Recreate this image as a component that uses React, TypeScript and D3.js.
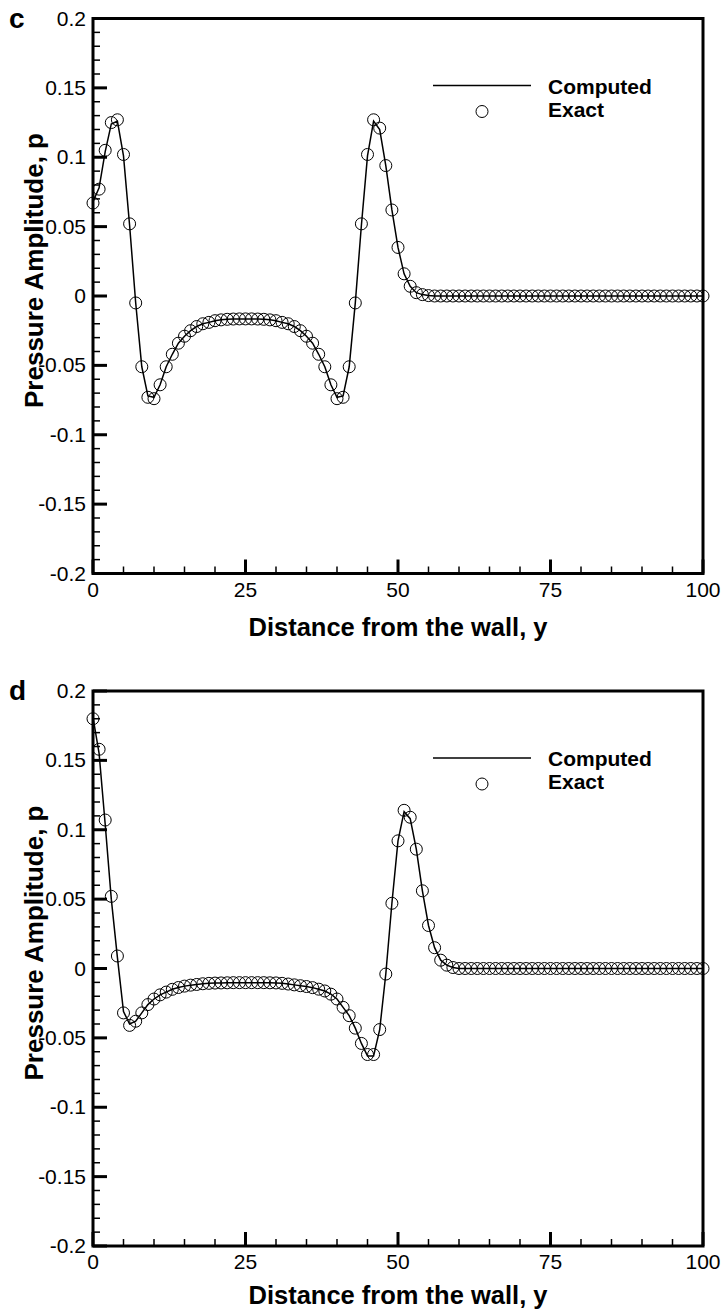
import React from "react";
import * as d3 from "d3";

// ---- data ----
const yPositions: number[] = d3.range(0, 101);

const exactC: number[] = [
  0.067, 0.077, 0.105, 0.125, 0.127, 0.102, 0.052, -0.005, -0.051, -0.073,
  -0.074, -0.064, -0.051, -0.042, -0.034, -0.029, -0.025, -0.022, -0.020, -0.019,
  -0.0178, -0.0172, -0.0168, -0.0166, -0.0165, -0.0165, -0.0165, -0.0166, -0.0168, -0.0172,
  -0.0178, -0.019, -0.020, -0.022, -0.025, -0.029, -0.034, -0.042, -0.051, -0.064,
  -0.074, -0.073, -0.051, -0.005, 0.052, 0.102, 0.127, 0.121, 0.094, 0.062,
  0.035, 0.016, 0.007, 0.0024, 0.001, 0.0003, 0, 0, 0, 0,
  0, 0, 0, 0, 0, 0, 0, 0, 0, 0,
  0, 0, 0, 0, 0, 0, 0, 0, 0, 0,
  0, 0, 0, 0, 0, 0, 0, 0, 0, 0,
  0, 0, 0, 0, 0, 0, 0, 0, 0, 0,
  0,
];

const computedC: number[] = [
  0.068, 0.078, 0.104, 0.124, 0.126, 0.101, 0.051, -0.005, -0.051, -0.072,
  -0.073, -0.064, -0.051, -0.042, -0.034, -0.029, -0.025, -0.022, -0.020, -0.019,
  -0.0178, -0.0172, -0.0168, -0.0166, -0.0165, -0.0165, -0.0165, -0.0166, -0.0168, -0.0172,
  -0.0178, -0.019, -0.020, -0.022, -0.025, -0.029, -0.034, -0.042, -0.051, -0.064,
  -0.073, -0.072, -0.051, -0.005, 0.051, 0.101, 0.126, 0.120, 0.094, 0.062,
  0.035, 0.016, 0.007, 0.0024, 0.001, 0.0003, 0, 0, 0, 0,
  0, 0, 0, 0, 0, 0, 0, 0, 0, 0,
  0, 0, 0, 0, 0, 0, 0, 0, 0, 0,
  0, 0, 0, 0, 0, 0, 0, 0, 0, 0,
  0, 0, 0, 0, 0, 0, 0, 0, 0, 0,
  0,
];

const exactD: number[] = [
  0.180, 0.158, 0.107, 0.052, 0.009, -0.032, -0.041, -0.038, -0.032, -0.026,
  -0.022, -0.019, -0.017, -0.015, -0.0137, -0.0127, -0.012, -0.0115, -0.011, -0.0107,
  -0.0105, -0.0104, -0.0103, -0.0102, -0.0102, -0.0102, -0.0102, -0.0102, -0.0102, -0.0103,
  -0.0104, -0.0107, -0.0112, -0.0118, -0.0124, -0.013, -0.0138, -0.0149, -0.0162, -0.0185,
  -0.022, -0.028, -0.034, -0.043, -0.054, -0.062, -0.062, -0.044, -0.004, 0.047,
  0.092, 0.114, 0.109, 0.086, 0.056, 0.031, 0.015, 0.006, 0.0024, 0.0007,
  0, 0, 0, 0, 0, 0, 0, 0, 0, 0,
  0, 0, 0, 0, 0, 0, 0, 0, 0, 0,
  0, 0, 0, 0, 0, 0, 0, 0, 0, 0,
  0, 0, 0, 0, 0, 0, 0, 0, 0, 0,
  0,
];

const computedD: number[] = [
  0.181, 0.155, 0.104, 0.050, 0.008, -0.031, -0.040, -0.038, -0.032, -0.026,
  -0.022, -0.019, -0.017, -0.015, -0.0137, -0.0127, -0.012, -0.0115, -0.011, -0.0107,
  -0.0105, -0.0104, -0.0103, -0.0102, -0.0102, -0.0102, -0.0102, -0.0102, -0.0102, -0.0103,
  -0.0104, -0.0107, -0.0112, -0.0118, -0.0124, -0.013, -0.0138, -0.0149, -0.0162, -0.0185,
  -0.022, -0.028, -0.034, -0.043, -0.054, -0.063, -0.063, -0.044, -0.004, 0.047,
  0.092, 0.113, 0.108, 0.086, 0.056, 0.031, 0.015, 0.006, 0.0024, 0.0007,
  0, 0, 0, 0, 0, 0, 0, 0, 0, 0,
  0, 0, 0, 0, 0, 0, 0, 0, 0, 0,
  0, 0, 0, 0, 0, 0, 0, 0, 0, 0,
  0, 0, 0, 0, 0, 0, 0, 0, 0, 0,
  0,
];

const xMajorTicks: number[] = [0, 25, 50, 75, 100];
const xTickLabels: string[] = ["0", "25", "50", "75", "100"];
const yMajorTicks: number[] = [-0.2, -0.15, -0.1, -0.05, 0, 0.05, 0.1, 0.15, 0.2];
const yTickLabels: string[] = ["-0.2", "-0.15", "-0.1", "-0.05", "0", "0.05", "0.1", "0.15", "0.2"];
const seriesNames: string[] = ["Computed", "Exact"];
const panelLabels: string[] = ["c", "d"];

const FONT = "'Liberation Sans', Arial, Helvetica, sans-serif";

const X0 = 93;
const X1 = 703;
const PH = 555;

function Panel({
  top,
  label,
  exact,
  computed,
  titleOffset,
}: {
  top: number;
  label: string;
  exact: number[];
  computed: number[];
  titleOffset: number;
}) {
  const x = d3.scaleLinear().domain([0, 100]).range([X0, X1]);
  const y = d3.scaleLinear().domain([-0.2, 0.2]).range([top + PH, top]);
  const line = d3
    .line<number>()
    .x((_, i) => x(yPositions[i]))
    .y((d) => y(d));
  const xMinor = d3.range(0, 101, 5).filter((v) => v % 25 !== 0);
  const yMinor = d3.range(-20, 21, 1).filter((v) => v % 5 !== 0).map((v) => v / 100);
  const bottom = top + PH;
  return (
    <g>
      {/* ticks */}
      {xMinor.map((v) => (
        <line key={"xm" + v} x1={x(v)} x2={x(v)} y1={bottom} y2={bottom - 7} stroke="#000" strokeWidth={1.5} />
      ))}
      {xMajorTicks.map((v) => (
        <line key={"xM" + v} x1={x(v)} x2={x(v)} y1={bottom} y2={bottom - 14} stroke="#000" strokeWidth={3} />
      ))}
      {yMinor.map((v) => (
        <line key={"ym" + v} x1={X0} x2={X0 + 7} y1={y(v)} y2={y(v)} stroke="#000" strokeWidth={1.5} />
      ))}
      {yMajorTicks.map((v) => (
        <line key={"yM" + v} x1={X0} x2={X0 + 14} y1={y(v)} y2={y(v)} stroke="#000" strokeWidth={3} />
      ))}
      {/* frame */}
      <rect x={X0} y={top} width={X1 - X0} height={PH} fill="none" stroke="#000" strokeWidth={3} />
      {/* tick labels */}
      {xMajorTicks.map((v, i) => (
        <text key={"xl" + v} x={x(v)} y={bottom + 23} textAnchor="middle" fontFamily={FONT} fontSize={21}>
          {xTickLabels[i]}
        </text>
      ))}
      {yMajorTicks.map((v, i) => (
        <text key={"yl" + v} x={86} y={y(v) + 7} textAnchor="end" fontFamily={FONT} fontSize={21}>
          {yTickLabels[i]}
        </text>
      ))}
      {/* axis titles */}
      <text x={(X0 + X1) / 2} y={bottom + titleOffset} textAnchor="middle" fontFamily={FONT} fontWeight="bold" fontSize={25.5}>
        {"Distance from the wall,  y"}
      </text>
      <text
        transform={`translate(43,${top + 252}) rotate(-90)`}
        textAnchor="middle"
        fontFamily={FONT}
        fontWeight="bold"
        fontSize={26}
      >
        {"Pressure Amplitude, p"}
      </text>
      <text x={9} y={top + 9} fontFamily={FONT} fontWeight="bold" fontSize={28}>
        {label}
      </text>
      {/* computed line */}
      <path d={line(computed) || ""} fill="none" stroke="#000" strokeWidth={1.5} />
      {/* exact points */}
      {exact.map((v, i) => (
        <circle key={"p" + i} cx={x(yPositions[i])} cy={y(v)} r={6} fill="none" stroke="#000" strokeWidth={1} />
      ))}
      {/* legend */}
      <line x1={433} x2={531} y1={top + 67} y2={top + 67} stroke="#000" strokeWidth={1.5} />
      <circle cx={482} cy={top + 93} r={6} fill="none" stroke="#000" strokeWidth={1} />
      <text x={548} y={top + 75} fontFamily={FONT} fontWeight="bold" fontSize={21}>
        {seriesNames[0]}
      </text>
      <text x={548} y={top + 98} fontFamily={FONT} fontWeight="bold" fontSize={21}>
        {seriesNames[1]}
      </text>
    </g>
  );
}

export default function App() {
  return (
    <svg
      width={721}
      height={1312}
      style={{ position: "absolute", left: 0, top: 0, background: "#fff" }}
    >
      <rect x={0} y={0} width={721} height={1312} fill="#fff" />
      <Panel top={18.5} label={panelLabels[0]} exact={exactC} computed={computedC} titleOffset={62} />
      <Panel top={691} label={panelLabels[1]} exact={exactD} computed={computedD} titleOffset={58} />
    </svg>
  );
}
